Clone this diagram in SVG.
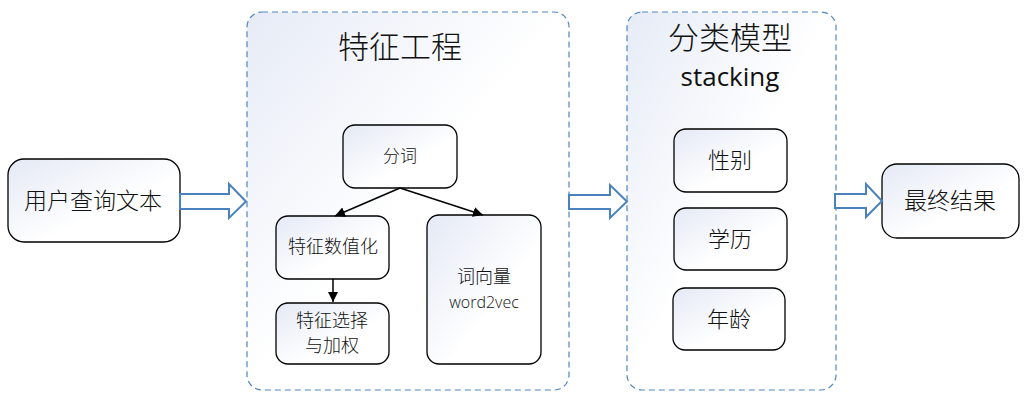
<svg xmlns="http://www.w3.org/2000/svg" width="1024" height="400" viewBox="0 0 1024 400">
<defs>
<linearGradient id="g" x1="0" y1="0" x2="1" y2="1">
<stop offset="0" stop-color="#e4e9f5"/>
<stop offset="0.6" stop-color="#ffffff"/>
<stop offset="1" stop-color="#ffffff"/>
</linearGradient>
<linearGradient id="gb" x1="0" y1="0" x2="1" y2="1">
<stop offset="0" stop-color="#e6ebf6"/>
<stop offset="0.5" stop-color="#ffffff"/>
<stop offset="1" stop-color="#ffffff"/>
</linearGradient>
<marker id="ah" viewBox="0 0 10 10" refX="10" refY="5" markerWidth="10" markerHeight="10" markerUnits="userSpaceOnUse" orient="auto">
<path d="M0,0 L10,5 L0,10 z" fill="#000"/>
</marker>
<style>
.box{fill:url(#g);stroke:#000;stroke-width:1.3}
.grp{fill:url(#gb);stroke:#4f86c0;stroke-width:1.2;stroke-dasharray:6 4}
.t{font-family:"Noto Sans CJK SC","Noto Sans",sans-serif;font-weight:300;fill:#111;text-anchor:middle}
.lat{font-family:"Open Sans","Noto Sans",sans-serif;font-weight:400}
.bigarrow{fill:#fff;stroke:#4a82bd;stroke-width:2}
.ln{stroke:#000;stroke-width:1.5;fill:none}
</style>
</defs>
<g id="group-feature">
<rect class="grp" x="247" y="12" width="322" height="378" rx="15"/>
<text class="t" x="400" y="58" font-size="31">特征工程</text>
</g>
<g id="group-model">
<rect class="grp" x="627" y="12" width="209" height="378" rx="15"/>
<text class="t" x="730" y="49" font-size="31">分类模型</text>
<text class="t lat" x="730" y="86" font-size="26">stacking</text>
</g>
<g id="node-input">
<rect class="box" x="8" y="159" width="172" height="83" rx="16"/>
<text class="t" x="93" y="209" font-size="23">用户查询文本</text>
</g>
<g id="node-seg">
<rect class="box" x="343" y="125" width="114" height="63" rx="12"/>
<text class="t" x="400" y="162" font-size="17">分词</text>
</g>
<g id="node-num">
<rect class="box" x="276" y="216" width="113" height="63" rx="12"/>
<text class="t" x="333" y="253" font-size="18">特征数值化</text>
</g>
<g id="node-sel">
<rect class="box" x="276" y="303" width="113" height="61" rx="12"/>
<text class="t" x="332" y="327" font-size="18">特征选择</text>
<text class="t" x="332" y="352" font-size="18">与加权</text>
</g>
<g id="node-w2v">
<rect class="box" x="427" y="215" width="114" height="149" rx="12"/>
<text class="t" x="484" y="283" font-size="18">词向量</text>
<text class="t lat" x="484" y="308" font-size="16" style="font-weight:300">word2vec</text>
</g>
<g id="node-sex">
<rect class="box" x="674" y="129" width="113" height="63" rx="12"/>
<text class="t" x="730" y="168" font-size="22">性别</text>
</g>
<g id="node-edu">
<rect class="box" x="674" y="208" width="113" height="62" rx="12"/>
<text class="t" x="730" y="247" font-size="22">学历</text>
</g>
<g id="node-age">
<rect class="box" x="673" y="288" width="112" height="62" rx="12"/>
<text class="t" x="729" y="327" font-size="22">年龄</text>
</g>
<g id="node-result">
<rect class="box" x="882" y="164" width="137" height="74" rx="15"/>
<text class="t" x="950" y="209" font-size="23">最终结果</text>
</g>
<g id="connectors">
<path class="bigarrow" d="M180,194 L229,194 L229,184 L246,201.5 L229,218 L229,209 L180,209 z"/>
<path class="bigarrow" d="M569,195 L610,195 L610,185 L627,201.5 L610,218 L610,209 L569,209 z"/>
<path class="bigarrow" d="M835,194 L866,194 L866,184 L882,201 L866,217 L866,208 L835,208 z"/>
<line class="ln" x1="400" y1="188" x2="335" y2="216" marker-end="url(#ah)"/>
<line class="ln" x1="400" y1="188" x2="483" y2="215" marker-end="url(#ah)"/>
<line class="ln" x1="333" y1="279" x2="333" y2="302" marker-end="url(#ah)"/>
</g>
</svg>
